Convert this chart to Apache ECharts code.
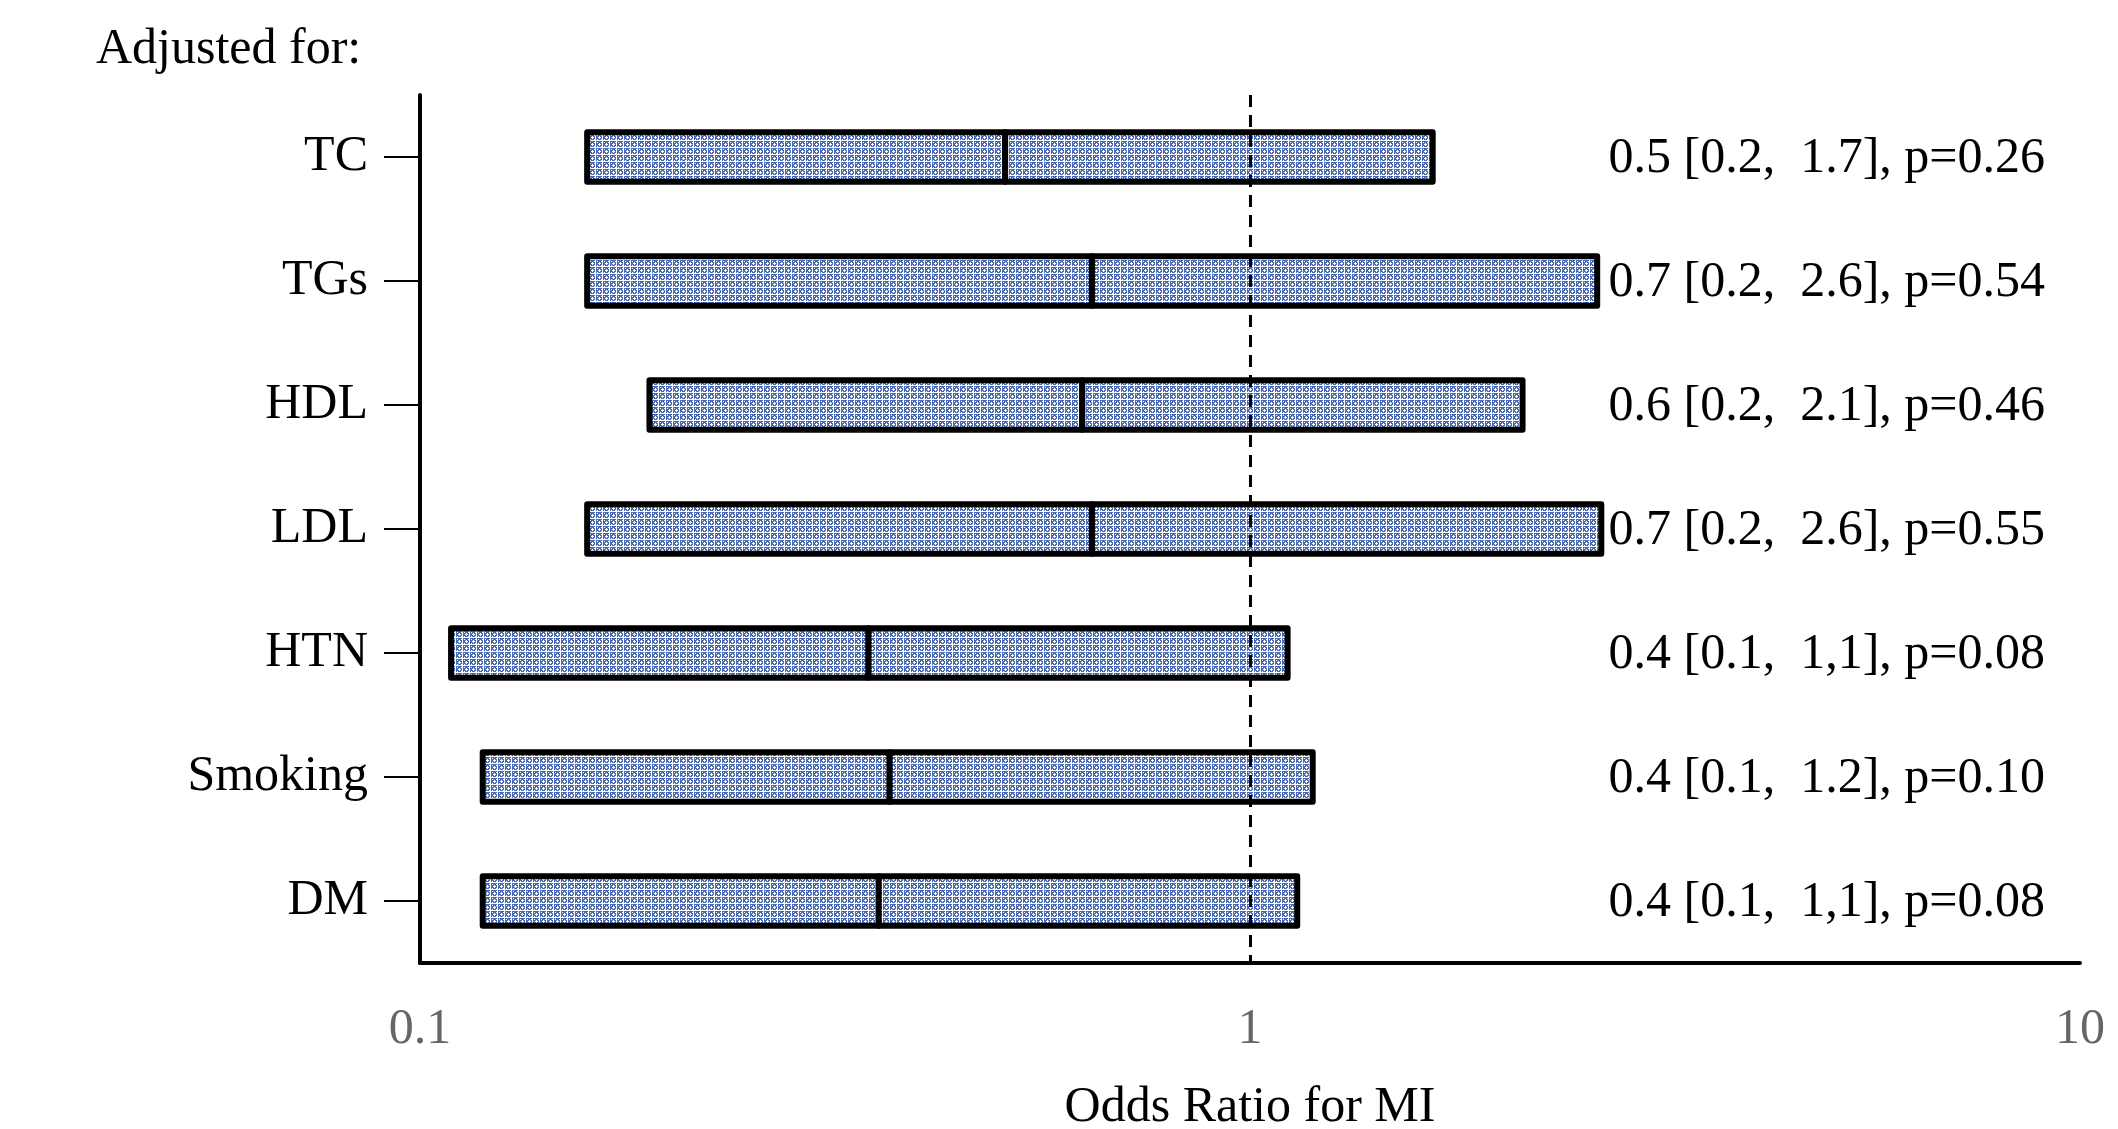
<!DOCTYPE html>
<html>
<head>
<meta charset="utf-8">
<script src="https://cdn.jsdelivr.net/npm/echarts@6/dist/echarts.min.js"></script>
<style>
  html, body { margin: 0; padding: 0; background: #fff; }
  #chart { width: 2118px; height: 1129px; }
</style>
</head>
<body>
<div id="chart"></div>
<script>
  // values (odds ratio with 95% CI, log scale)
  const categories = ['TC', 'TGs', 'HDL', 'LDL', 'HTN', 'Smoking', 'DM'];
  const ciLower = [0.159, 0.159, 0.189, 0.159, 0.109, 0.119, 0.119];
  const oddsRatio = [0.507, 0.645, 0.628, 0.645, 0.347, 0.368, 0.357];
  const ciUpper = [1.66, 2.62, 2.13, 2.65, 1.11, 1.19, 1.14];
  const resultText = [
    '0.5 [0.2,  1.7], p=0.26',
    '0.7 [0.2,  2.6], p=0.54',
    '0.6 [0.2,  2.1], p=0.46',
    '0.7 [0.2,  2.6], p=0.55',
    '0.4 [0.1,  1,1], p=0.08',
    '0.4 [0.1,  1.2], p=0.10',
    '0.4 [0.1,  1,1], p=0.08'
  ];
  const xTicks = [0.1, 1, 10];

  const serif = '"Liberation Serif", "Times New Roman", serif';

  // blue block pattern with white grid lines, used as the bar fill
  function makeHatch() {
    const n = 7;
    const c = document.createElement('canvas');
    c.width = n; c.height = n;
    const g = c.getContext('2d');
    g.fillStyle = '#ffffff';
    g.fillRect(0, 0, n, n);
    g.fillStyle = '#4a6bb3';
    g.fillRect(1, 1, n - 1, n - 1);
    g.fillStyle = '#ffffff';
    g.fillRect(4, 3, 1, 3);
    g.fillRect(3, 4, 3, 1);
    [[2, 2], [6, 6], [2, 6], [6, 2]].forEach(p => g.fillRect(p[0], p[1], 1, 1));
    return c;
  }
  const hatch = makeHatch();

  const chart = echarts.init(document.getElementById('chart'));

  const option = {
    animation: false,
    backgroundColor: '#fff',
    title: {
      text: 'Adjusted for:',
      left: 91,
      top: 20,
      textStyle: { fontFamily: serif, fontSize: 50, fontWeight: 'normal', color: '#000' }
    },
    grid: { left: 420, right: 38, top: 95, bottom: 166, outerBoundsMode: 'none' },
    xAxis: {
      type: 'log',
      logBase: 10,
      min: xTicks[0],
      max: xTicks[xTicks.length - 1],
      name: 'Odds Ratio for MI',
      nameLocation: 'middle',
      nameGap: 120,
      nameTextStyle: { fontFamily: serif, fontSize: 50, color: '#000' },
      axisLine: { show: true, lineStyle: { color: '#000', width: 4 } },
      axisTick: { show: false },
      splitLine: { show: false },
      minorTick: { show: false },
      axisLabel: {
        margin: 42,
        fontFamily: serif,
        fontSize: 50,
        color: '#666',
        formatter: v => String(+v.toPrecision(3))
      }
    },
    yAxis: {
      type: 'category',
      inverse: true,
      data: categories,
      axisLine: { show: true, lineStyle: { color: '#000', width: 4 } },
      axisTick: { show: true, alignWithLabel: true, length: 36, lineStyle: { color: '#000', width: 2 } },
      axisLabel: { margin: 52, fontFamily: serif, fontSize: 50, color: '#000' },
      splitLine: { show: false }
    },
    series: [{
      type: 'custom',
      data: categories.map((c, i) => [i, ciLower[i], oddsRatio[i], ciUpper[i]]),
      encode: { x: [1, 2, 3], y: 0 },
      renderItem: function (params, api) {
        const yi = api.value(0);
        const lo = api.coord([api.value(1), yi]);
        const mid = api.coord([api.value(2), yi]);
        const hi = api.coord([api.value(3), yi]);
        const h = api.size([1, 1])[1] * 0.4;
        const style = { fill: { image: hatch, repeat: 'repeat' }, stroke: '#000', lineWidth: 6, lineJoin: 'round' };
        return {
          type: 'group',
          children: [
            { type: 'rect', shape: { x: lo[0], y: lo[1] - h / 2, width: mid[0] - lo[0], height: h }, style: style },
            { type: 'rect', shape: { x: mid[0], y: mid[1] - h / 2, width: hi[0] - mid[0], height: h }, style: style },
            {
              type: 'text',
              x: api.getWidth() - 73,
              y: lo[1] + 2,
              style: {
                text: resultText[params.dataIndex],
                fontFamily: serif,
                fontSize: 50,
                fill: '#000',
                align: 'right',
                verticalAlign: 'middle'
              }
            }
          ]
        };
      },
      markLine: {
        silent: true,
        symbol: 'none',
        label: { show: false },
        lineStyle: { color: '#000', type: [12, 8], width: 3 },
        data: [{ xAxis: 1 }]
      },
      z: 3
    }]
  };

  chart.setOption(option);
</script>
</body>
</html>
